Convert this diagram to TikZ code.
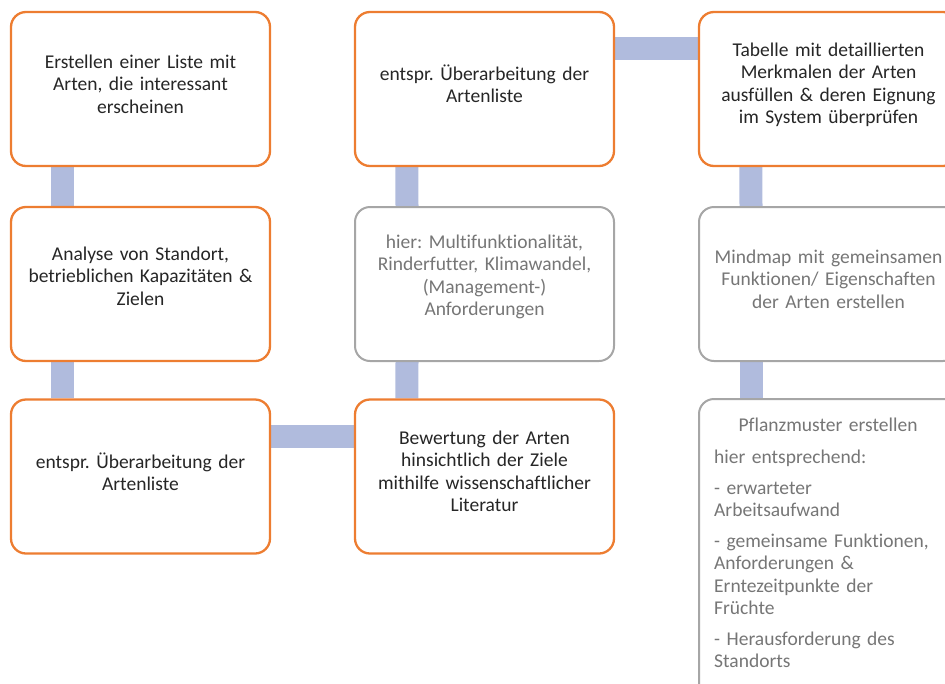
\documentclass[tikz,border=0pt]{standalone}
\usepackage{fontspec}
\setmainfont[Ligatures={NoCommon}]{Carlito}
\usetikzlibrary{calc,backgrounds}
\definecolor{borange}{HTML}{ED7D31}
\definecolor{bgray}{HTML}{A6A6A6}
\definecolor{tgray}{HTML}{767676}
\definecolor{tdark}{HTML}{262626}
\definecolor{barblue}{HTML}{B0BBDD}
\tikzset{
  boxbase/.style={rectangle, rounded corners=15pt, minimum width=259pt, minimum height=154pt, fill=white, inner sep=0pt},
  obox/.style={boxbase, draw=borange, line width=2.3pt},
  gbox/.style={boxbase, draw=bgray, line width=2pt},
  txt/.style={align=center, text width=250pt, font=\fontsize{19.5pt}{22.5pt}\selectfont\frenchspacing, text=tdark, inner sep=0pt},
  gtxt/.style={txt, text=tgray},
  bar/.style={draw=barblue, line width=23pt},
}
\begin{document}
\begin{tikzpicture}[x=1pt,y=-1pt]
\useasboundingbox (0,0) rectangle (945,683);
\clip (0,0) rectangle (945,683);
% column 1
\node[obox] (a1) at (140.5,89) {};
\node[obox] (a2) at (140.5,284) {};
\node[obox] (a3) at (140.5,476.5) {};
% column 2
\node[obox] (b1) at (484.5,89) {};
\node[gbox] (b2) at (484.5,284) {};
\node[obox] (b3) at (484.5,476.5) {};
% column 3
\node[obox] (c1) at (828.5,89) {};
\node[gbox] (c2) at (828.5,284) {};
\node[gbox, minimum height=304pt, anchor=north] (c3) at (828.5,398) {};
% connectors
\begin{scope}[on background layer]
\draw[bar] ($(a1.south west)+(53,0)$) -- ($(a2.north west)+(53,0)$);
\draw[bar] ($(a2.south west)+(53,0)$) -- ($(a3.north west)+(53,0)$);
\draw[bar] ($(a3.north east)+(0,38)$) -- ($(b3.north west)+(0,38)$);
\draw[bar] ($(b3.north west)+(53,0)$) -- ($(b2.south west)+(53,0)$);
\draw[bar] ($(b2.north west)+(53,0)$) -- ($(b1.south west)+(53,0)$);
\draw[bar] ($(b1.north east)+(0,38)$) -- ($(c1.north west)+(0,38)$);
\draw[bar] ($(c1.south west)+(53,0)$) -- ($(c2.north west)+(53,0)$);
\draw[bar] ($(c2.south west)+(53,0)$) -- ($(c3.north west)+(53,0)$);
\end{scope}
% texts
\node[txt] (ta1) at ($(a1.center)+(0,-5)$) {Erstellen einer Liste mit\\Arten, die interessant\\erscheinen};
\node[txt] (ta2) at ($(a2.center)+(0,-8)$) {Analyse von Standort,\\betrieblichen Kapazitäten \&\\Zielen};
\node[txt] (ta3) at ($(a3.center)+(0,-5)$) {entspr. Überarbeitung der\\Artenliste};
\node[txt] (tb1) at ($(b1.center)+(0,-5)$) {entspr. Überarbeitung der\\Artenliste};
\node[gtxt] (tb2) at ($(b2.center)+(0,-7)$) {hier: Multifunktionalität,\\Rinderfutter, Klimawandel,\\(Management-)\\Anforderungen};
\node[txt] (tb3) at ($(b3.center)+(0,-5)$) {Bewertung der Arten\\hinsichtlich der Ziele\\mithilfe wissenschaftlicher\\Literatur};
\node[txt] (tc1) at ($(c1.center)+(0,-4)$) {Tabelle mit detaillierten\\Merkmalen der Arten\\ausfüllen \& deren Eignung\\im System überprüfen};
\node[gtxt] (tc2) at ($(c2.center)+(0,-5)$) {Mindmap mit gemeinsamen\\Funktionen/ Eigenschaften\\der Arten erstellen};
\node[gtxt, anchor=center] (tc3a) at (828,425) {Pflanzmuster erstellen};
\node[gtxt, align=left, anchor=north west, text width=240pt] (tc3b) at (714,450) {hier entsprechend:\\[8pt]- erwarteter\\Arbeitsaufwand\\[8pt]- gemeinsame Funktionen,\\Anforderungen \&\\Erntezeitpunkte der\\Früchte\\[8pt]- Herausforderung des\\Standorts};
\end{tikzpicture}
\end{document}
